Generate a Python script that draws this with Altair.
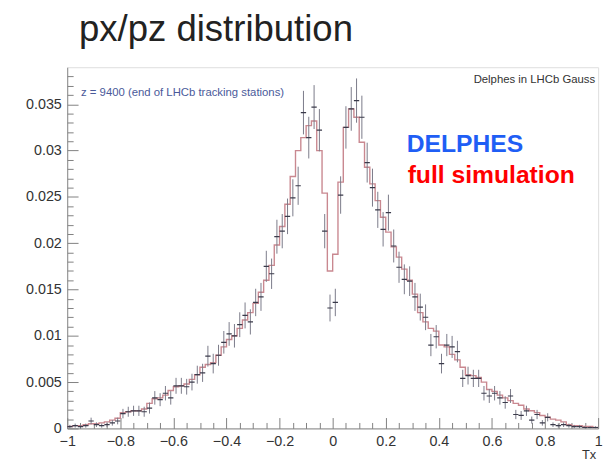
import altair as alt
import pandas as pd

# ---- data ----
bin_width = 0.02
bin_left = [round(-1 + bin_width * i, 2) for i in range(100)]

full_sim = [
    0.0002, 0.0003, 0.0003, 0.0004, 0.0005, 0.0005, 0.0006, 0.0007, 0.0009, 0.0011,
    0.0017, 0.0018, 0.0019, 0.0019, 0.0021, 0.0027, 0.0032, 0.0033, 0.0036, 0.0041,
    0.0045, 0.0046, 0.0048, 0.0053, 0.0058, 0.0066, 0.0069, 0.0071, 0.0079, 0.0088,
    0.0096, 0.0100, 0.0108, 0.0117, 0.0125, 0.0135, 0.0147, 0.0160, 0.0176, 0.0198,
    0.0218, 0.0242, 0.0272, 0.0300, 0.0314, 0.0327, 0.0332, 0.0300, 0.0254, 0.0170,
    0.0188, 0.0266, 0.0325, 0.0345, 0.0336, 0.0309, 0.0282, 0.0264, 0.0246, 0.0228,
    0.0212, 0.0196, 0.0185, 0.0172, 0.0160, 0.0145, 0.0125, 0.0115, 0.0108, 0.0105,
    0.0090, 0.0088, 0.0080, 0.0074, 0.0066, 0.0058, 0.0057, 0.0055, 0.0050, 0.0042,
    0.0040, 0.0036, 0.0033, 0.0030, 0.0027, 0.0025, 0.0021, 0.0019, 0.0017, 0.0014,
    0.0012, 0.0010, 0.0009, 0.0007, 0.0004, 0.0003, 0.0003, 0.0002, 0.0002, 0.0001,
]

delphes = [
    0.0002, 0.0003, 0.0002, 0.0003, 0.0008, 0.0004, 0.0003, 0.0004, 0.0006, 0.0008,
    0.0016, 0.0018, 0.0019, 0.0019, 0.0018, 0.0022, 0.0033, 0.0031, 0.0038, 0.0033,
    0.0046, 0.0046, 0.0045, 0.0050, 0.0058, 0.0060, 0.0078, 0.0070, 0.0079, 0.0093,
    0.0102, 0.0100, 0.0112, 0.0122, 0.0115, 0.0136, 0.0142, 0.0175, 0.0167, 0.0207,
    0.0213, 0.0229, 0.0249, 0.0262, 0.0341, 0.0314, 0.0347, 0.0322, 0.0213, 0.0130,
    0.0136, 0.0252, 0.0325, 0.0345, 0.0354, 0.0336, 0.0287, 0.0260, 0.0236, 0.0215,
    0.0233, 0.0197, 0.0174, 0.0161, 0.0159, 0.0142, 0.0131, 0.0120, 0.0090, 0.0099,
    0.0070, 0.0090, 0.0088, 0.0083, 0.0054, 0.0057, 0.0054, 0.0054, 0.0038, 0.0035,
    0.0038, 0.0033, 0.0028, 0.0035, 0.0015, 0.0014, 0.0019, 0.0009, 0.0015, 0.0006,
    0.0012, 0.0004, 0.0003, 0.0004, 0.0003, 0.0002, 0.0002, 0.0001, 0.0001, 0.0001,
]

delphes_err = [
    0.00018, 0.00022, 0.00018, 0.00022, 0.00036, 0.00025, 0.00022, 0.00025, 0.00030, 0.00036,
    0.00051, 0.00054, 0.00055, 0.00055, 0.00054, 0.00060, 0.00073, 0.00070, 0.00078, 0.00073,
    0.00086, 0.00086, 0.00085, 0.00090, 0.00097, 0.00098, 0.00112, 0.00106, 0.00113, 0.00122,
    0.00128, 0.00127, 0.00134, 0.00140, 0.00136, 0.00148, 0.00151, 0.00168, 0.00164, 0.00183,
    0.00185, 0.00192, 0.00200, 0.00206, 0.00235, 0.00225, 0.00237, 0.00228, 0.00185, 0.00145,
    0.00148, 0.00202, 0.00229, 0.00236, 0.00239, 0.00233, 0.00215, 0.00205, 0.00195, 0.00186,
    0.00194, 0.00178, 0.00168, 0.00161, 0.00160, 0.00151, 0.00145, 0.00139, 0.00120, 0.00126,
    0.00106, 0.00120, 0.00119, 0.00116, 0.00093, 0.00096, 0.00093, 0.00093, 0.00078, 0.00075,
    0.00078, 0.00073, 0.00067, 0.00075, 0.00050, 0.00048, 0.00055, 0.00038, 0.00050, 0.00030,
    0.00044, 0.00025, 0.00022, 0.00025, 0.00022, 0.00018, 0.00018, 0.00013, 0.00013, 0.00013,
]

x_major = [-1, -0.8, -0.6, -0.4, -0.2, 0, 0.2, 0.4, 0.6, 0.8, 1]
y_major = [0, 0.005, 0.01, 0.015, 0.02, 0.025, 0.03, 0.035]
x_ticks_all = [round(-1 + 0.05 * i, 2) for i in range(41)]
y_ticks_all = [round(0.001 * i, 3) for i in range(39)]

title_text = "px/pz distribution"
z_text = "z = 9400 (end of LHCb tracking stations)"
corner_text = "Delphes in LHCb Gauss"
legend_delphes = "DELPHES"
legend_full = "full simulation"
x_title = "Tx"

# ---- tables ----
df = pd.DataFrame({
    "left": bin_left,
    "right": [round(l + bin_width, 2) for l in bin_left],
    "center": [round(l + bin_width / 2, 2) for l in bin_left],
    "full": full_sim,
    "delphes": delphes,
    "err": delphes_err,
})
df["lo"] = (df["delphes"] - df["err"]).clip(lower=0)
df["hi"] = df["delphes"] + df["err"]

step_df = pd.DataFrame({"x": bin_left + [1.0], "y": full_sim + [full_sim[-1]]})

W, H = 538, 366
FONT = "Liberation Sans"

x_scale = alt.Scale(domain=[-1, 1], nice=False, zero=False)
y_scale = alt.Scale(domain=[0, 0.039], nice=False, zero=False)

label_x_axis = alt.Axis(
    orient="bottom", values=x_major, format="~g", tickSize=0, labelPadding=6,
    labelFontSize=14.5, labelColor="#333", labelFont=FONT, labelFlush=False,
    labelOverlap=False, domainColor="#8a8a8a", grid=False, title=None,
)
label_y_axis = alt.Axis(
    orient="left", values=y_major, format="~g", tickSize=0, labelPadding=6,
    labelFontSize=14.5, labelColor="#333", labelFont=FONT, labelOverlap=False,
    domainColor="#8a8a8a", grid=False, title=None,
)
tick_x_axis = alt.Axis(
    orient="top", offset=-H, values=x_ticks_all, labels=False, domain=False,
    tickSize={"condition": {"test": "abs(datum.value*5 - round(datum.value*5)) < 0.001", "value": 11}, "value": 6},
    tickColor="#808080", grid=False, title=None,
)
tick_y_axis = alt.Axis(
    orient="right", offset=-W, values=y_ticks_all, labels=False, domain=False,
    tickSize={"condition": {"test": "abs(datum.value*200 - round(datum.value*200)) < 0.001", "value": 11}, "value": 6},
    tickColor="#808080", grid=False, title=None,
)

line = alt.Chart(step_df).mark_line(
    interpolate="step-after", color="#c98890", strokeWidth=1.4, clip=True
).encode(
    x=alt.X("x:Q", scale=x_scale, axis=label_x_axis),
    y=alt.Y("y:Q", scale=y_scale, axis=label_y_axis),
)

tick_layer = alt.Chart(df).mark_point(opacity=0).encode(
    x=alt.X("center:Q", scale=x_scale, axis=tick_x_axis),
    y=alt.Y("delphes:Q", scale=y_scale, axis=tick_y_axis),
)

err_bars = alt.Chart(df).mark_rule(color="#7a7a88", strokeWidth=1, clip=True).encode(
    x=alt.X("center:Q", scale=x_scale, axis=None),
    y=alt.Y("lo:Q", scale=y_scale, axis=None),
    y2="hi:Q",
)

h_bars = alt.Chart(df).mark_rule(color="#3a3a4a", strokeWidth=1.2, clip=True).encode(
    x=alt.X("left:Q", scale=x_scale, axis=None),
    x2="right:Q",
    y=alt.Y("delphes:Q", scale=y_scale, axis=None),
)

one = pd.DataFrame({"a": [0]})

def label(text, x, y, size, color, weight="normal", align="left", baseline="alphabetic"):
    return alt.Chart(one).mark_text(
        text=text, font=FONT, fontSize=size, color=color, fontWeight=weight,
        align=align, baseline=baseline,
    ).encode(x=alt.value(x), y=alt.value(y))

texts = [
    label(title_text, 12, -27, 37, "#222222"),
    label(z_text, 14, 29, 11.5, "#4a5a9a"),
    label(corner_text, W - 3, 16, 11.5, "#333333", align="right"),
    label(legend_delphes, 344, 86, 25, "#1f5ef5", weight="bold"),
    label(legend_full, 345, 117, 25, "#ff0000", weight="bold"),
    label(x_title, W - 2, H + 31, 13, "#333333", align="right"),
]

chart = alt.layer(line, tick_layer, err_bars, h_bars, *texts).resolve_axis(
    x="independent", y="independent"
).properties(
    width=W, height=H,
    padding={"left": 60, "top": 57, "right": 9, "bottom": 30},
    autosize=alt.AutoSizeParams(type="none"),
).configure_view(
    stroke="#8a8a8a", strokeWidth=1
).configure(background="white")

chart.save("out.html", embed_options={"renderer": "svg", "actions": False})
